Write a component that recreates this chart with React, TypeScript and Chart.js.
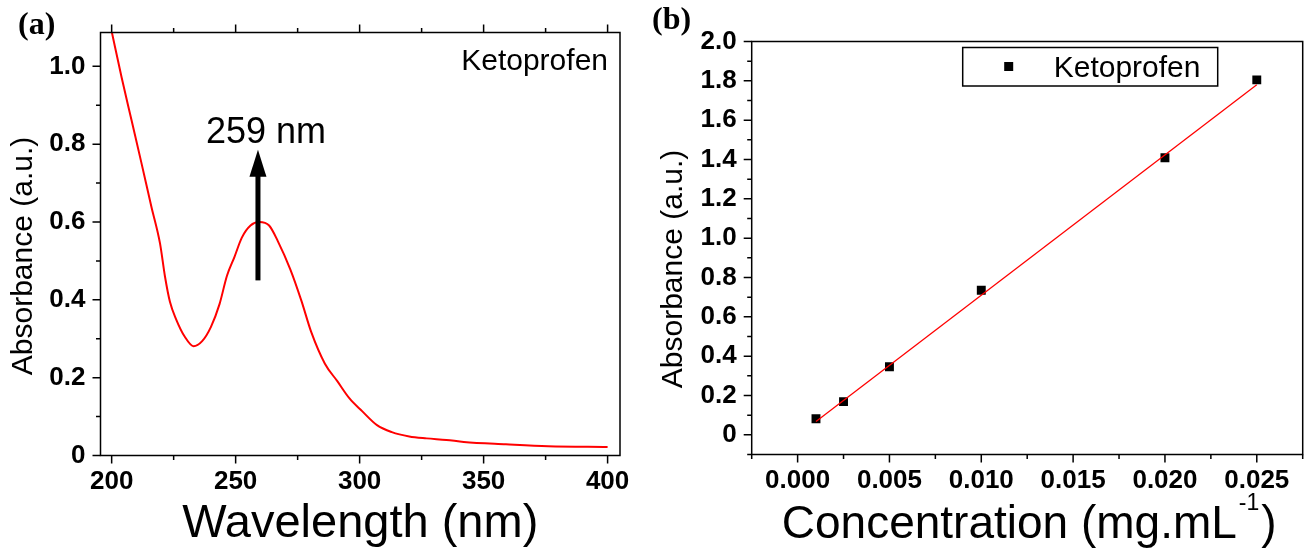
import React, { useEffect, useRef } from "react";
import { Chart, registerables } from "chart.js";

Chart.register(...registerables);

// ---------- Data: panel (a) UV spectrum ----------
const wavelengths = [
  200, 204, 208, 212, 216, 219.5, 221.5, 223.5, 226, 229.5, 233, 236.5, 240, 243.5,
  246.5, 249.5, 252.5, 256, 259.5, 263.5, 267, 272, 276.5, 280.5, 286, 291, 296,
  301, 307, 313, 320, 327, 335, 342, 359, 376, 400,
];
const absorbanceA = [
  1.09, 0.972, 0.862, 0.752, 0.64, 0.545, 0.46, 0.395, 0.35, 0.305, 0.281, 0.294,
  0.33, 0.389, 0.462, 0.51, 0.56, 0.591, 0.6, 0.591, 0.551, 0.479, 0.398, 0.317,
  0.236, 0.191, 0.146, 0.114, 0.078, 0.06, 0.049, 0.044, 0.04, 0.035, 0.029, 0.024,
  0.022,
];
const arrowWavelength = 259;
const arrowFrom = 0.45;
const arrowTo = 0.786;
const peakLabel = "259 nm";
const seriesName = "Ketoprofen";

// ---------- Data: panel (b) calibration ----------
const concentrations = [0.001, 0.0025, 0.005, 0.01, 0.02, 0.025];
const absorbanceB = [0.082, 0.169, 0.346, 0.735, 1.409, 1.805];
const fitX = [0.001, 0.025];
const fitY = [0.068, 1.78];

// ---------- Axis tick settings ----------
const xTicksA = { min: 195.5, max: 405, step: 25, majorEvery: 50 };
const yTicksA = { min: 0, max: 1.087, step: 0.1 };
const xTicksB = { min: -0.0025, max: 0.0275, step: 0.0025 };
const yTicksB = { min: -0.1, max: 2.0, step: 0.1 };

const SANS = '"Liberation Sans", Arial, Helvetica, sans-serif';
const SERIF = '"Liberation Serif", "Times New Roman", Times, serif';

const tickFont = { size: 26, weight: "bold" as const, family: SANS };

const isMajorTenth = (v: number) => Math.round(v * 10) % 2 === 0;
const tenthLabel = (v: number) => {
  const k = Math.round(v * 10);
  if (k % 2 !== 0) return "";
  return k === 0 ? "0" : (k / 10).toFixed(1);
};
const isMajorA = (v: number) => Math.round(v) % xTicksA.majorEvery === 0;
const isMajorB = (v: number) => Math.abs(Math.round(v / 0.0025)) % 2 === 0;

function frameTicks(id: string, xMajor: (v: number) => boolean, yMajor: (v: number) => boolean, topTicks: boolean) {
  return {
    id,
    afterDraw(chart: any) {
      const { ctx, chartArea: ca, scales } = chart;
      const xs = scales.x;
      const ys = scales.y;
      ctx.save();
      ctx.strokeStyle = "#000";
      ctx.lineWidth = 1.5;
      ctx.beginPath();
      xs.ticks.forEach((t: any) => {
        const px = xs.getPixelForValue(t.value);
        const len = xMajor(t.value) ? 8 : 4.5;
        ctx.moveTo(px, ca.bottom);
        ctx.lineTo(px, ca.bottom + len);
        if (topTicks) {
          ctx.moveTo(px, ca.top);
          ctx.lineTo(px, ca.top - len);
        }
      });
      ys.ticks.forEach((t: any) => {
        const py = ys.getPixelForValue(t.value);
        const len = yMajor(t.value) ? 8 : 4.5;
        ctx.moveTo(ca.left, py);
        ctx.lineTo(ca.left - len, py);
      });
      ctx.stroke();
      ctx.strokeRect(ca.left, ca.top, ca.right - ca.left, ca.bottom - ca.top);
      ctx.restore();
    },
  };
}

const hiddenGrid = { drawOnChartArea: false, tickLength: 8, tickColor: "rgba(0,0,0,0)" };

function ChartA() {
  const ref = useRef<HTMLCanvasElement>(null);
  useEffect(() => {
    const labelsPlugin = {
      id: "labelsA",
      afterDraw(chart: any) {
        const { ctx, chartArea: ca, scales } = chart;
        ctx.save();
        ctx.fillStyle = "#000";
        ctx.textBaseline = "alphabetic";
        // x title
        ctx.font = `47px ${SANS}`;
        ctx.textAlign = "center";
        ctx.fillText("Wavelength (nm)", (ca.left + ca.right) / 2, 537);
        // y title
        ctx.save();
        ctx.translate(32, 256);
        ctx.rotate(-Math.PI / 2);
        ctx.font = `30px ${SANS}`;
        ctx.fillText("Absorbance (a.u.)", 0, 0);
        ctx.restore();
        // panel label
        ctx.font = `bold 32px ${SERIF}`;
        ctx.textAlign = "left";
        ctx.fillText("(a)", 18, 34);
        // series label
        ctx.font = `30px ${SANS}`;
        ctx.textAlign = "right";
        ctx.fillText(seriesName, ca.right - 12, 70);
        // arrow
        const ax = scales.x.getPixelForValue(arrowWavelength);
        const y0 = scales.y.getPixelForValue(arrowFrom);
        const y1 = scales.y.getPixelForValue(arrowTo);
        const headLen = 27;
        ctx.fillRect(ax - 2.5, y1 + headLen - 1, 5, y0 - (y1 + headLen - 1));
        ctx.beginPath();
        ctx.moveTo(ax, y1);
        ctx.lineTo(ax - 8.5, y1 + headLen);
        ctx.lineTo(ax + 8.5, y1 + headLen);
        ctx.closePath();
        ctx.fill();
        // peak label
        ctx.font = `36px ${SANS}`;
        ctx.textAlign = "center";
        ctx.fillText(peakLabel, ax + 8, y1 - 7);
        ctx.restore();
      },
    };

    const chart = new Chart(ref.current as HTMLCanvasElement, {
      type: "scatter",
      data: {
        datasets: [
          {
            label: seriesName,
            data: wavelengths.map((w, i) => ({ x: w, y: absorbanceA[i] })),
            showLine: true,
            borderColor: "#ff0000",
            borderWidth: 2,
            pointRadius: 0,
            cubicInterpolationMode: "monotone",
          },
        ],
      },
      options: {
        responsive: false,
        animation: false,
        layout: { padding: { left: 0, top: 32.5, right: 25, bottom: 0 } },
        plugins: { legend: { display: false }, tooltip: { enabled: false } },
        scales: {
          x: {
            type: "linear",
            position: "bottom",
            min: xTicksA.min,
            max: xTicksA.max,
            afterFit: (s: any) => {
              s.height = 93.5;
            },
            border: { display: false },
            grid: hiddenGrid,
            ticks: {
              stepSize: xTicksA.step,
              includeBounds: false,
              autoSkip: false,
              maxRotation: 0,
              padding: 3,
              color: "#000",
              font: tickFont,
              callback: (v: any) => (isMajorA(Number(v)) ? String(Math.round(Number(v))) : ""),
            },
          },
          y: {
            type: "linear",
            min: yTicksA.min,
            max: yTicksA.max,
            afterFit: (s: any) => {
              s.width = 100.5;
            },
            border: { display: false },
            grid: hiddenGrid,
            ticks: {
              stepSize: yTicksA.step,
              includeBounds: false,
              autoSkip: false,
              padding: 7,
              color: "#000",
              font: tickFont,
              callback: (v: any) => tenthLabel(Number(v)),
            },
          },
        },
      },
      plugins: [frameTicks("frameA", isMajorA, isMajorTenth, true), labelsPlugin],
    } as any);
    return () => chart.destroy();
  }, []);
  return (
    <canvas
      ref={ref}
      width={645}
      height={549}
      style={{ position: "absolute", left: 0, top: 0, width: 645, height: 549 }}
    />
  );
}

function ChartB() {
  const ref = useRef<HTMLCanvasElement>(null);
  useEffect(() => {
    const labelsPlugin = {
      id: "labelsB",
      afterDraw(chart: any) {
        const { ctx, chartArea: ca } = chart;
        ctx.save();
        ctx.fillStyle = "#000";
        ctx.textBaseline = "alphabetic";
        // x title with superscript
        const main = "Concentration (mg.mL";
        const sup = "-1";
        const close = ")";
        ctx.font = `46px ${SANS}`;
        const w1 = ctx.measureText(main).width;
        const w3 = ctx.measureText(close).width;
        ctx.font = `23px ${SANS}`;
        const w2 = ctx.measureText(sup).width;
        const total = w1 + 2 + w2 + 2 + w3;
        let x = (ca.left + ca.right) / 2 + 2 - total / 2;
        ctx.textAlign = "left";
        ctx.font = `46px ${SANS}`;
        ctx.fillText(main, x, 538);
        x += w1 + 2;
        ctx.font = `23px ${SANS}`;
        ctx.fillText(sup, x, 510);
        x += w2 + 2;
        ctx.font = `46px ${SANS}`;
        ctx.fillText(close, x, 538);
        // y title
        ctx.save();
        ctx.translate(37, 269);
        ctx.rotate(-Math.PI / 2);
        ctx.font = `30px ${SANS}`;
        ctx.textAlign = "center";
        ctx.fillText("Absorbance (a.u.)", 0, 0);
        ctx.restore();
        // panel label
        ctx.font = `bold 32px ${SERIF}`;
        ctx.textAlign = "left";
        ctx.fillText("(b)", 7, 29);
        // legend box
        const bx = ca.left + 211;
        const by = ca.top + 6;
        ctx.strokeStyle = "#000";
        ctx.lineWidth = 1.5;
        ctx.strokeRect(bx, by, 255, 38.5);
        ctx.fillRect(bx + 46 - 4.5, by + 19 - 4.5, 9, 9);
        ctx.font = `30px ${SANS}`;
        ctx.fillText(seriesName, bx + 91, by + 29);
        ctx.restore();
      },
    };

    const chart = new Chart(ref.current as HTMLCanvasElement, {
      type: "scatter",
      data: {
        datasets: [
          {
            label: "Linear fit",
            data: fitX.map((c, i) => ({ x: c, y: fitY[i] })),
            showLine: true,
            borderColor: "#ff0000",
            borderWidth: 1.3,
            pointRadius: 0,
          },
          {
            label: seriesName,
            data: concentrations.map((c, i) => ({ x: c, y: absorbanceB[i] })),
            showLine: false,
            pointStyle: "rect",
            pointRadius: 6.3,
            backgroundColor: "#000",
            borderColor: "#000",
            borderWidth: 0,
          },
        ],
      },
      options: {
        responsive: false,
        animation: false,
        layout: { padding: { left: 0, top: 41.5, right: 4, bottom: 0 } },
        plugins: { legend: { display: false }, tooltip: { enabled: false } },
        scales: {
          x: {
            type: "linear",
            position: "bottom",
            min: xTicksB.min,
            max: xTicksB.max,
            afterFit: (s: any) => {
              s.height = 94.5;
            },
            border: { display: false },
            grid: hiddenGrid,
            ticks: {
              stepSize: xTicksB.step,
              autoSkip: false,
              maxRotation: 0,
              padding: 3,
              color: "#000",
              font: tickFont,
              callback: (v: any) => (isMajorB(Number(v)) ? Number(v).toFixed(3) : ""),
            },
          },
          y: {
            type: "linear",
            min: yTicksB.min,
            max: yTicksB.max,
            afterFit: (s: any) => {
              s.width = 106.7;
            },
            border: { display: false },
            grid: hiddenGrid,
            ticks: {
              stepSize: yTicksB.step,
              autoSkip: false,
              padding: 7,
              color: "#000",
              font: tickFont,
              callback: (v: any) => tenthLabel(Number(v)),
            },
          },
        },
      },
      plugins: [frameTicks("frameB", isMajorB, isMajorTenth, false), labelsPlugin],
    } as any);
    return () => chart.destroy();
  }, []);
  return (
    <canvas
      ref={ref}
      width={664}
      height={549}
      style={{ position: "absolute", left: 645, top: 0, width: 664, height: 549 }}
    />
  );
}

export default function App() {
  return (
    <div
      style={{
        position: "absolute",
        left: 0,
        top: 0,
        width: 1309,
        height: 549,
        background: "#fff",
        overflow: "hidden",
      }}
    >
      <ChartA />
      <ChartB />
    </div>
  );
}
